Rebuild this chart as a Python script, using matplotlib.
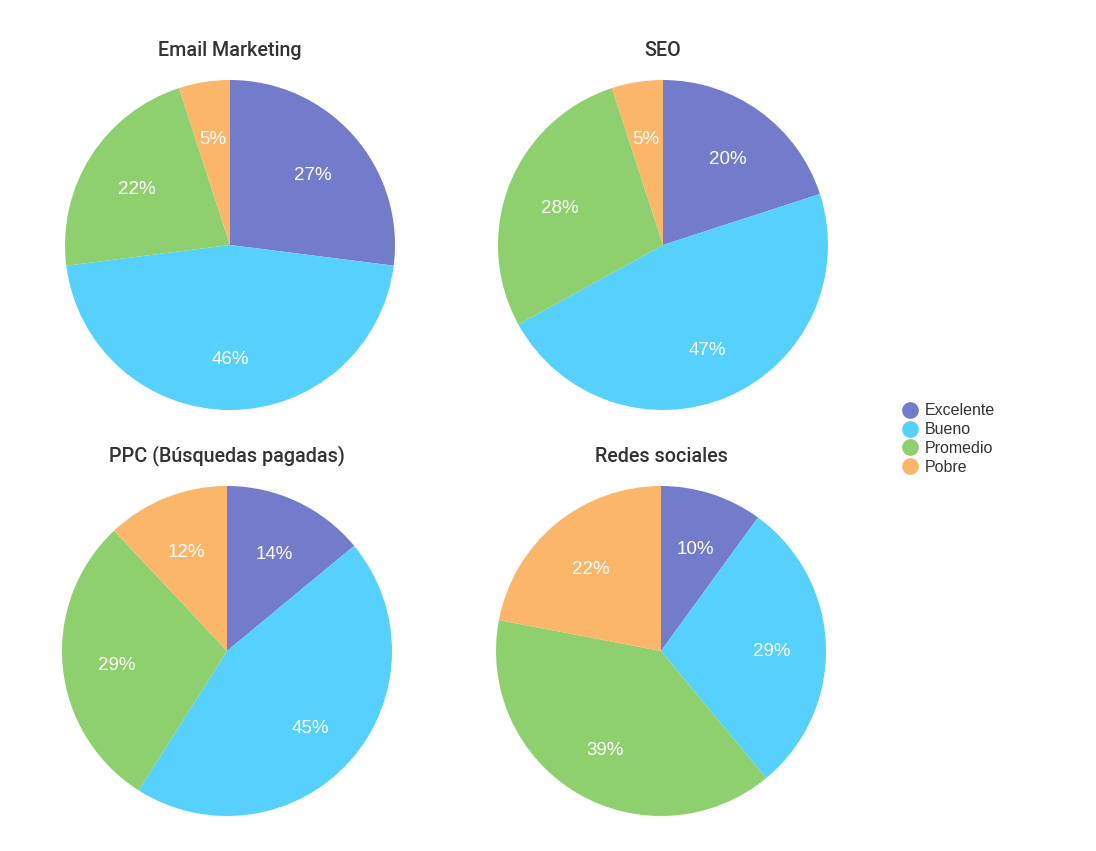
import matplotlib
matplotlib.use("Agg")
import matplotlib.pyplot as plt
import matplotlib.transforms as mtransforms
from matplotlib.lines import Line2D

categories = ["Excelente", "Bueno", "Promedio", "Pobre"]
colors = ["#737ccb", "#56d0fc", "#8fd06e", "#fcb66a"]

titles = ["Email Marketing", "SEO", "PPC (Búsquedas pagadas)", "Redes sociales"]
email_values = [27, 46, 22, 5]
seo_values = [20, 47, 28, 5]
ppc_values = [14, 45, 29, 12]
redes_values = [10, 29, 39, 22]
all_values = [email_values, seo_values, ppc_values, redes_values]

W, H = 1096, 851
fig = plt.figure(figsize=(W / 100, H / 100), dpi=100)
fig.patch.set_facecolor("white")

centers = [(230, 245), (663, 245), (227, 651), (661, 651)]
title_y = [50, 50, 456, 456]
R = 165

for vals, title, (cx, cy), ty in zip(all_values, titles, centers, title_y):
    ax = fig.add_axes([(cx - R) / W, 1 - (cy + R) / H, 2 * R / W, 2 * R / H])
    wedges, texts, autotexts = ax.pie(
        vals, colors=colors, startangle=90, counterclock=False,
        autopct=lambda p: f"{p:.0f}%", pctdistance=0.67, radius=1,
        wedgeprops=dict(linewidth=0),
        textprops=dict(color="white", fontsize=13.5, family="Liberation Sans"))
    for t in autotexts:
        t.set_va("center_baseline")
        t.set_transform(mtransforms.offset_copy(ax.transData, fig=fig, x=0, y=-2, units="dots"))
    ax.set_xlim(-1, 1)
    ax.set_ylim(-1, 1)
    ax.set_aspect("equal")
    ax.axis("off")
    fig.text(cx / W, 1 - ty / H, title, ha="center", va="center",
             fontsize=14.2, color="#333333", family="Roboto", fontweight="medium")

handles = [Line2D([0], [0], marker="o", linestyle="none", markersize=11,
                  markerfacecolor=c, markeredgecolor=c) for c in colors]
fig.legend(handles, categories, loc="upper left",
           bbox_to_anchor=(894 / W, 1 - 397 / H), frameon=False,
           handletextpad=0.3, labelspacing=0.24,
           handlelength=1.2, borderaxespad=0,
           prop=dict(family="Liberation Sans", size=11.5))
for t in fig.legends[0].get_texts():
    t.set_color("#333333")

fig.savefig("out.png", dpi=100)
